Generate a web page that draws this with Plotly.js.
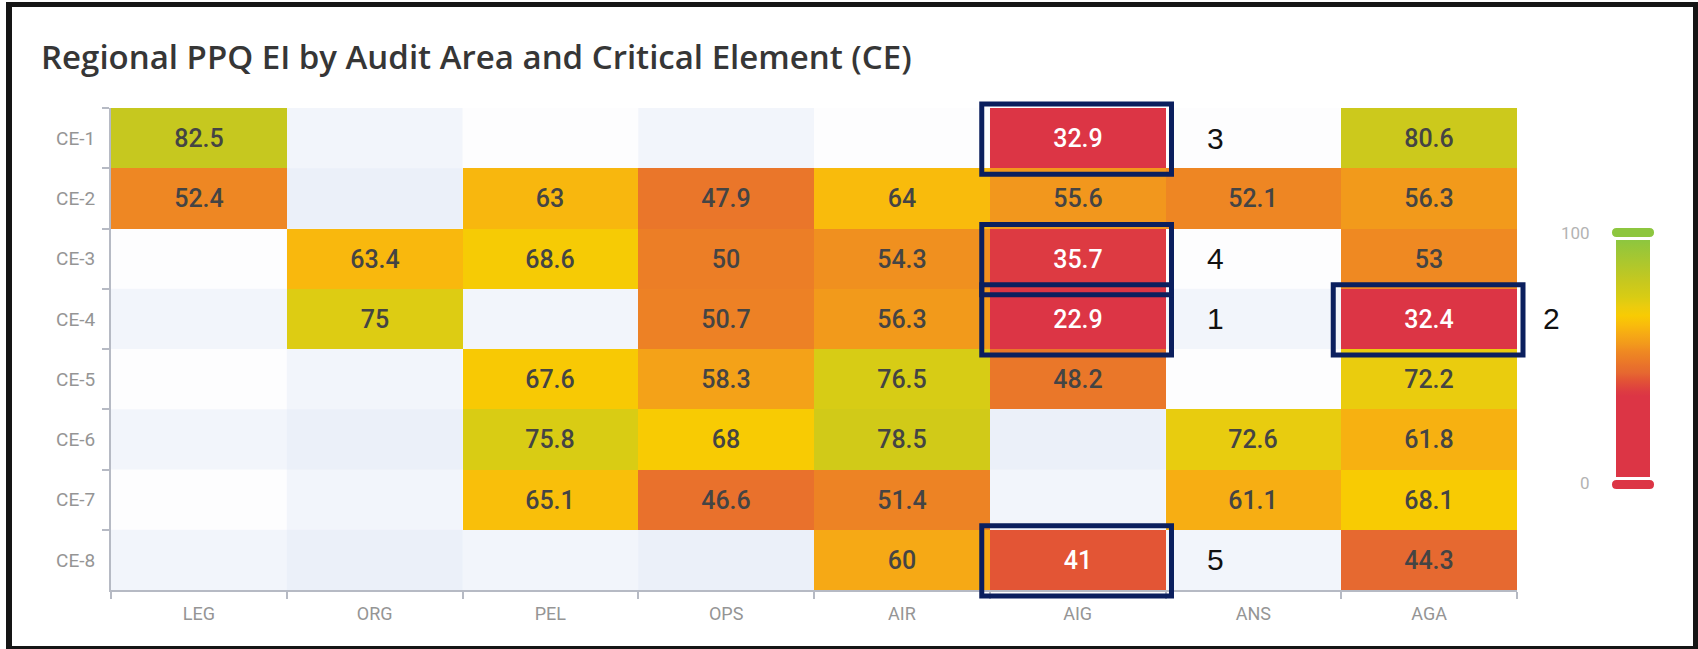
<!DOCTYPE html>
<html>
<head>
<meta charset="utf-8">
<script src="https://cdn.plot.ly/plotly-3.0.1.min.js"></script>
<style>
  html, body { margin: 0; padding: 0; background: #ffffff; }
  #wrap { position: relative; width: 1698px; height: 649px; overflow: hidden; }
  #chart { position: absolute; left: 0; top: 0; width: 1698px; height: 649px; }
  #frame { position: absolute; left: 6px; top: 2px; width: 1692px; height: 647px; box-sizing: border-box;
           border-style: solid; border-color: #151515; border-width: 5px 5px 3px 6px; pointer-events: none; }
</style>
</head>
<body>
<div id="wrap">
  <div id="chart"></div>
  <div id="frame"></div>
</div>
<script>
// ---- data ----
const areas = ['LEG', 'ORG', 'PEL', 'OPS', 'AIR', 'AIG', 'ANS', 'AGA'];
const elements = ['CE-1', 'CE-2', 'CE-3', 'CE-4', 'CE-5', 'CE-6', 'CE-7', 'CE-8'];
const ce1 = [82.5, null, null, null, null, 32.9, null, 80.6];
const ce2 = [52.4, null, 63, 47.9, 64, 55.6, 52.1, 56.3];
const ce3 = [null, 63.4, 68.6, 50, 54.3, 35.7, null, 53];
const ce4 = [null, 75, null, 50.7, 56.3, 22.9, null, 32.4];
const ce5 = [null, null, 67.6, 58.3, 76.5, 48.2, null, 72.2];
const ce6 = [null, null, 75.8, 68, 78.5, null, 72.6, 61.8];
const ce7 = [null, null, 65.1, 46.6, 51.4, null, 61.1, 68.1];
const ce8 = [null, null, null, null, 60, 41, null, 44.3];
// highlighted cells (annotation boxes) and their labels
const highlightAreas = ['AIG', 'AGA', 'AIG', 'AIG', 'AIG'];
const highlightElements = ['CE-4', 'CE-4', 'CE-1', 'CE-3', 'CE-8'];
const highlightLabels = ['1', '2', '3', '4', '5'];
const scaleMin = 0, scaleMax = 100;

// ---- layout constants ----
const W = 1698, H = 649;
const M = { l: 111, r: 181, t: 108, b: 59 };
const PW = W - M.l - M.r, PH = H - M.t - M.b;
const nC = areas.length, nR = elements.length;

const z = [ce1, ce2, ce3, ce4, ce5, ce6, ce7, ce8];
const txt = z.map(r => r.map(v => (v === null ? '' : String(v))));

const colorscale = [
  [0.00, '#dc3545'], [0.34, '#dc3545'], [0.36, '#dd3b42'], [0.41, '#e35535'],
  [0.44, '#e66830'], [0.47, '#e9722b'], [0.50, '#ec7e26'], [0.53, '#ef8922'],
  [0.56, '#f2991c'], [0.60, '#f6a915'], [0.64, '#f9bb0c'], [0.68, '#f8cb03'],
  [0.72, '#ebcc0e'], [0.76, '#d8cc14'], [0.82, '#c8c81e'], [1.00, '#8dc63f']
];

const pxX = px => (px - M.l) / PW;        // paper x from pixel
const pxY = py => (M.t + PH - py) / PH;   // paper y from pixel

const shapes = [];
// alternating band background (rows and columns)
areas.forEach((a, i) => {
  if (i % 2 === 1) shapes.push({ type: 'rect', layer: 'below', xref: 'x domain', yref: 'y domain',
    x0: i / nC, x1: (i + 1) / nC, y0: 0, y1: 1, line: { width: 0 }, fillcolor: 'rgba(222,229,245,0.32)' });
});
elements.forEach((e, j) => {
  if (j % 2 === 1) shapes.push({ type: 'rect', layer: 'below', xref: 'x domain', yref: 'y domain',
    x0: 0, x1: 1, y0: 1 - (j + 1) / nR, y1: 1 - j / nR, line: { width: 0 }, fillcolor: 'rgba(222,229,245,0.32)' });
});

// highlight boxes
const pad = { l: 8, r: 6, t: 4, b: 6 };
const annotations = [];
highlightAreas.forEach((a, k) => {
  const c = areas.indexOf(a), r = elements.indexOf(highlightElements[k]);
  shapes.push({ type: 'rect', layer: 'above', xref: 'x domain', yref: 'y domain',
    x0: c / nC - pad.l / PW, x1: (c + 1) / nC + pad.r / PW,
    y0: 1 - (r + 1) / nR - pad.b / PH, y1: 1 - r / nR + pad.t / PH,
    line: { color: '#0b1f5e', width: 5 }, fillcolor: 'rgba(0,0,0,0)' });
  const gap = c === nC - 1 ? 35 : 50;
  annotations.push({ xref: 'x domain', yref: 'y domain', x: (c + 1) / nC + gap / PW, y: 1 - (r + 0.5) / nR,
    xanchor: 'center', yanchor: 'middle', showarrow: false, text: highlightLabels[k],
    font: { family: 'Liberation Sans, Arial, sans-serif', size: 30, color: '#111111' } });
});

// colorbar caps
function capPath(x0, x1, y0, y1) {
  const r = (y1 - y0) / 2, ym = (y0 + y1) / 2;
  const P = (x, y) => pxX(x).toFixed(5) + ',' + pxY(y).toFixed(5);
  return 'M' + P(x0 + r, y0) + ' L' + P(x1 - r, y0) + ' Q' + P(x1, y0) + ' ' + P(x1, ym) +
         ' Q' + P(x1, y1) + ' ' + P(x1 - r, y1) + ' L' + P(x0 + r, y1) + ' Q' + P(x0, y1) + ' ' + P(x0, ym) +
         ' Q' + P(x0, y0) + ' ' + P(x0 + r, y0) + ' Z';
}
shapes.push({ type: 'path', xref: 'paper', yref: 'paper', path: capPath(1612, 1654, 228, 237),
  fillcolor: colorscale[colorscale.length - 1][1], line: { width: 0 } });
shapes.push({ type: 'path', xref: 'paper', yref: 'paper', path: capPath(1612, 1654, 480, 489),
  fillcolor: colorscale[0][1], line: { width: 0 } });

// colorbar end labels
[[scaleMax, 233], [scaleMin, 483]].forEach(([v, py]) => {
  annotations.push({ xref: 'paper', yref: 'paper', x: pxX(1592), y: pxY(py), xanchor: 'right', yanchor: 'middle',
    showarrow: false, text: String(v), font: { family: 'Roboto, sans-serif', size: 17, color: '#b3b3b3' } });
});

const trace = {
  type: 'heatmap', x: areas, y: elements, z: z, text: txt, texttemplate: '%{text}',
  textfont: { family: 'Roboto, sans-serif', size: 25, weight: 500 },
  colorscale: colorscale, zmin: scaleMin, zmax: scaleMax, xgap: 0, ygap: 0,
  hoverinfo: 'skip', showscale: true,
  colorbar: { x: pxX(1616), xanchor: 'left', xref: 'paper', xpad: 0, ypad: 0,
    y: pxY(358.5), yanchor: 'middle', yref: 'paper', lenmode: 'pixels', len: 237,
    thicknessmode: 'pixels', thickness: 34, outlinewidth: 0, showticklabels: false, ticks: '' }
};

const axisCommon = {
  type: 'category', showgrid: false, zeroline: false, showline: true, linecolor: '#b6bac4', linewidth: 2,
  ticks: 'outside', tickson: 'boundaries', ticklen: 7, tickwidth: 2, tickcolor: '#b6bac4',
  tickfont: { family: 'Roboto, sans-serif', size: 18, color: '#959595' }, layer: 'below traces', fixedrange: true
};

const layout = {
  width: W, height: H, autosize: false, margin: M,
  paper_bgcolor: '#ffffff', plot_bgcolor: '#fdfdfe',
  title: { text: 'Regional PPQ EI by Audit Area and Critical Element (CE)', xref: 'container', yref: 'container',
    x: 41 / W, xanchor: 'left', y: 1 - 57 / H, yanchor: 'middle',
    font: { family: 'Open Sans, sans-serif', size: 33, color: '#363636', weight: 600 } },
  xaxis: Object.assign({}, axisCommon, { range: [-0.5, nC - 0.5], ticklabelstandoff: 6 }),
  yaxis: Object.assign({}, axisCommon, { range: [nR - 0.5, -0.5], ticklabelstandoff: 10,
    tickfont: { family: 'Roboto, sans-serif', size: 19, color: '#959595' } }),
  shapes: shapes, annotations: annotations, showlegend: false
};

Plotly.newPlot('chart', [trace], layout, { displayModeBar: false, staticPlot: true });
</script>
</body>
</html>
